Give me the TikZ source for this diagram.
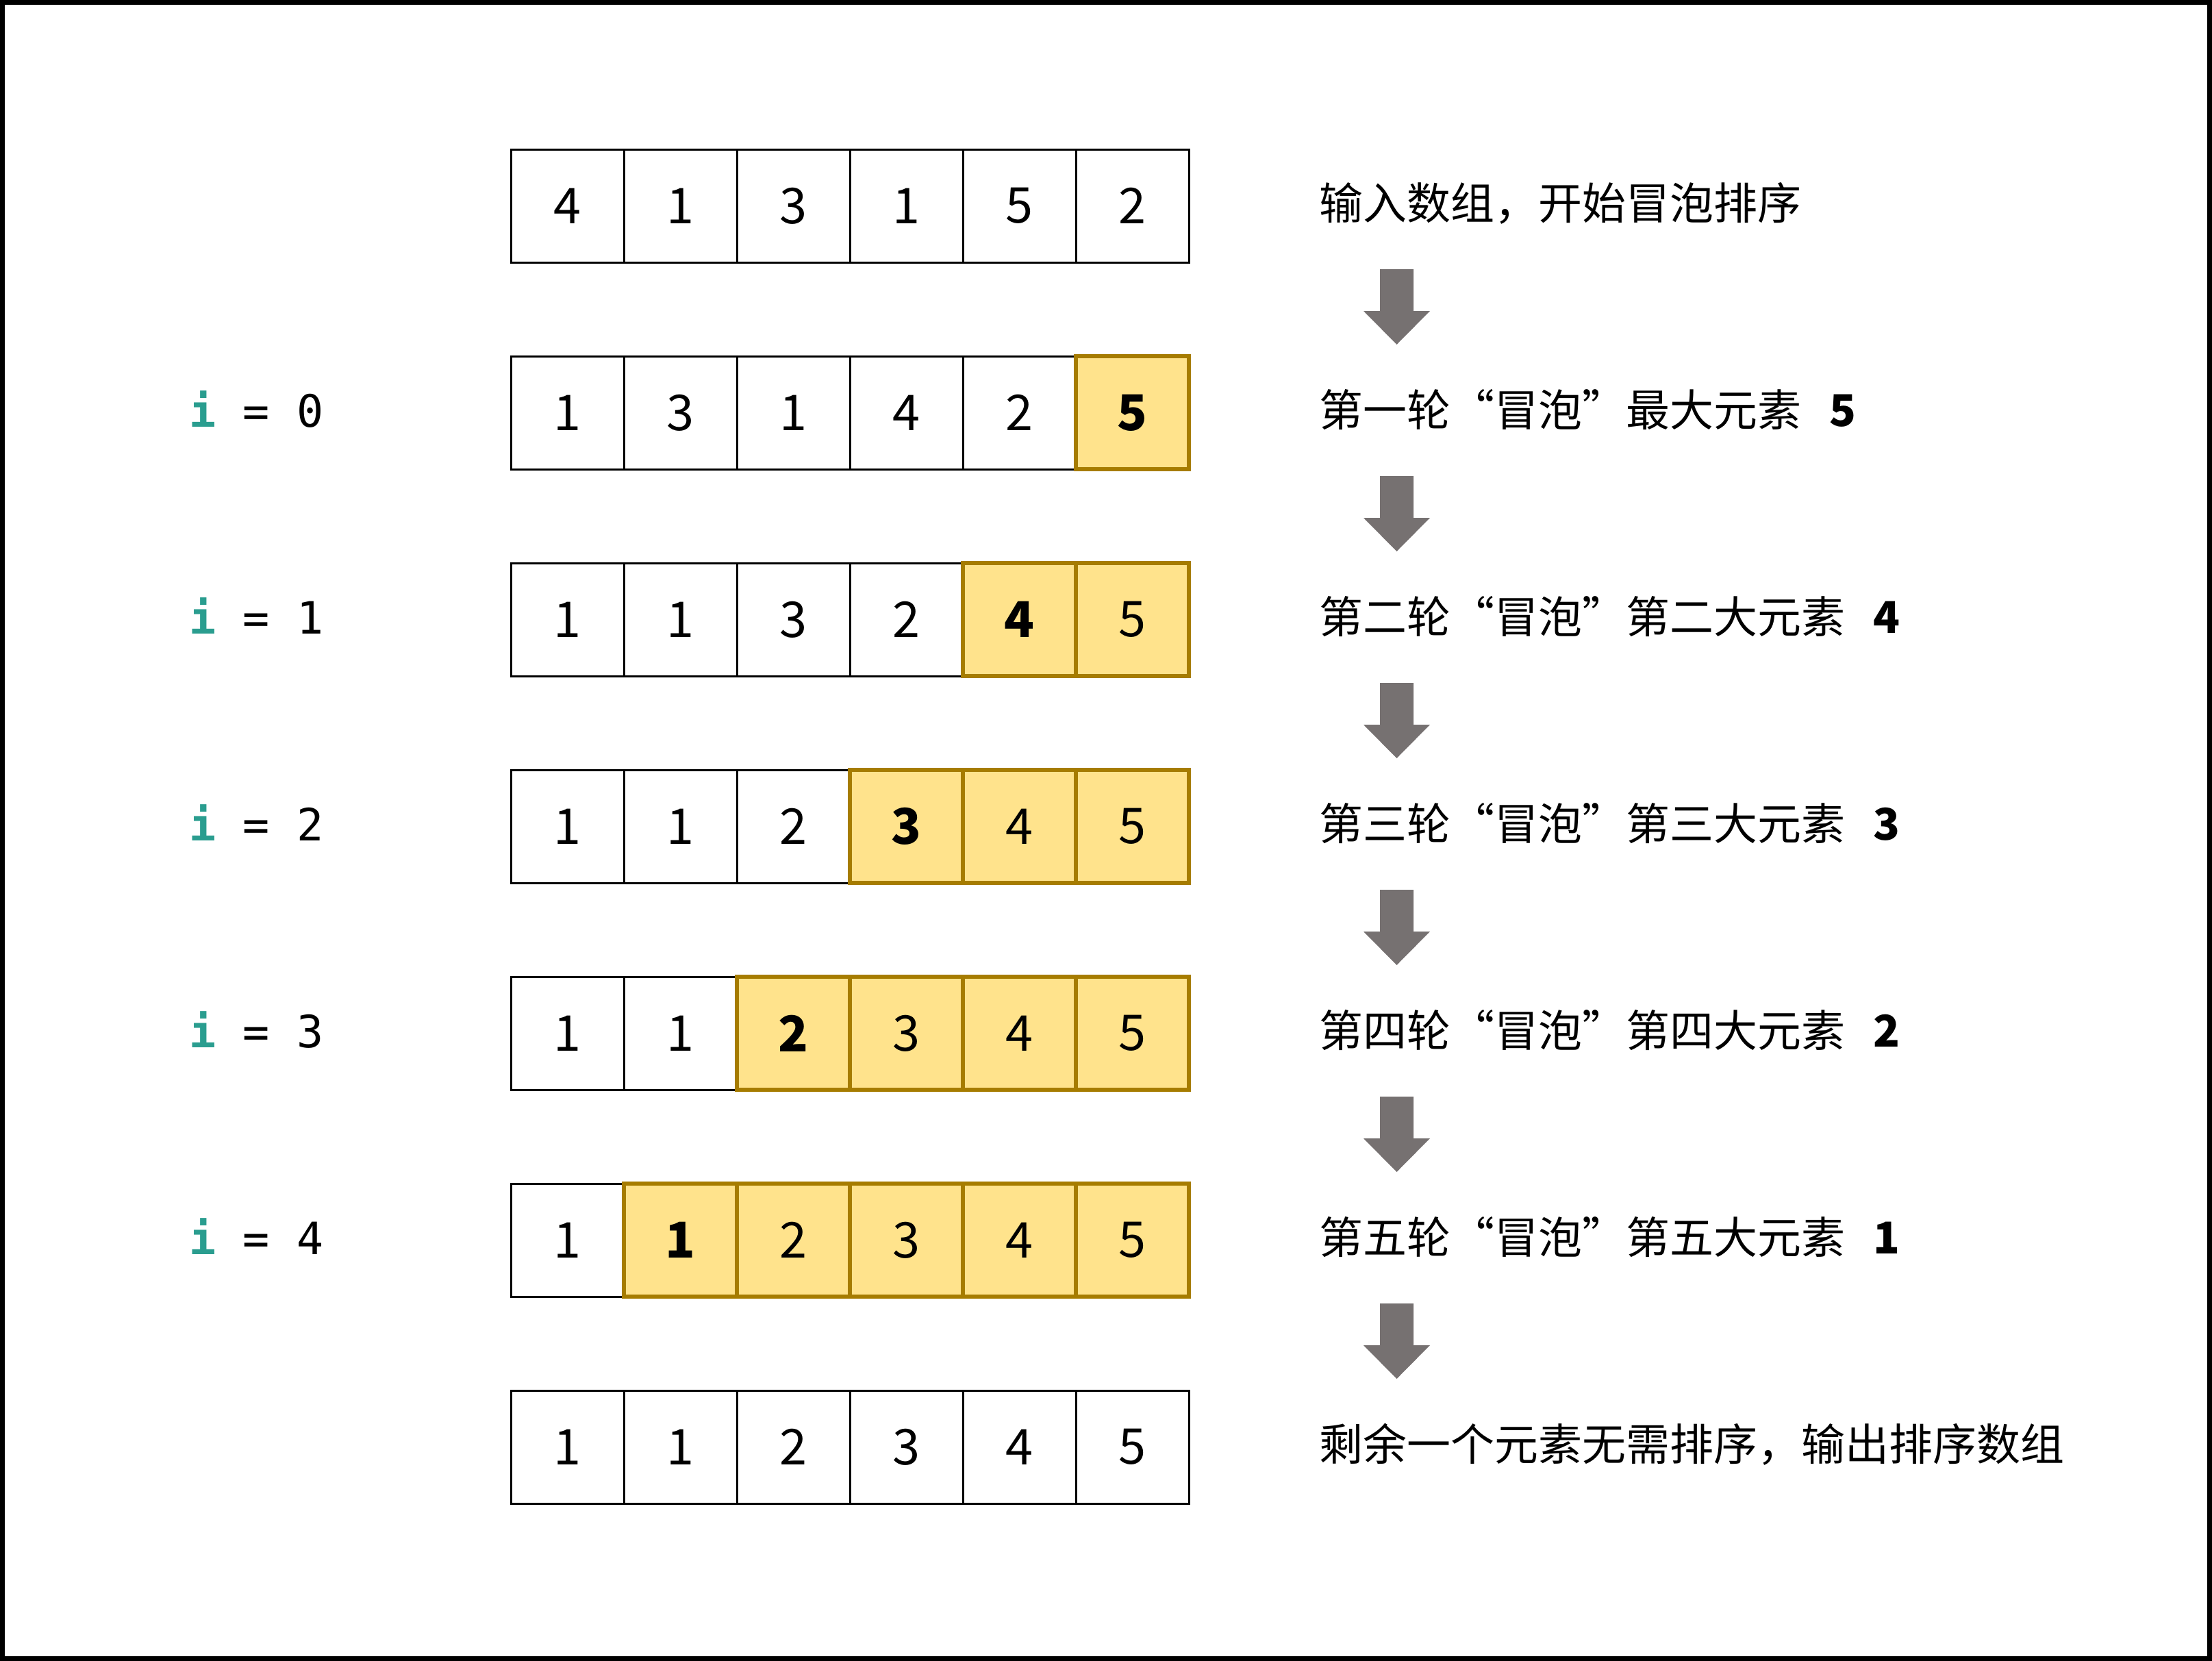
\documentclass[tikz,border=0pt]{standalone}
\usepackage{fontspec}
\setmainfont{Noto Sans CJK SC}
\newfontfamily\idxfont{DejaVu Sans Mono}

\definecolor{hlfill}{RGB}{255,227,140}
\definecolor{hlborder}{RGB}{166,124,0}
\definecolor{arrowgray}{RGB}{118,113,113}
\definecolor{idxteal}{RGB}{42,157,143}

\tikzset{
  cell/.style={draw, line width=0.3mm, minimum size=1.65cm, inner sep=0pt,
    font=\fontsize{20.5}{24}\selectfont},
  hlcell/.style={cell, fill=hlfill, draw=hlborder, line width=0.6mm},
  steplabel/.style={anchor=base west, inner sep=0pt, font=\fontsize{18.2}{22}\selectfont},
  idxlabel/.style={anchor=base west, inner sep=0pt, font=\idxfont\fontsize{18.5}{22}\selectfont},
  downarrow/.style={fill=arrowgray},
}

\begin{document}
\begin{tikzpicture}

\useasboundingbox (0,0) rectangle (32.3,-24.25);
\draw[line width=0.7mm] (0.035,-0.035) rectangle (32.265,-24.215);

% array rows, h = first highlighted cell
\foreach \h/\vals/\txt [count=\r from 0] in {
  6/{4,1,3,1,5,2}/{输入数组，开始冒泡排序},
  5/{1,3,1,4,2,5}/{第一轮“冒泡”最大元素\hspace{0.65em}\textbf{5}},
  4/{1,1,3,2,4,5}/{第二轮“冒泡”第二大元素\hspace{0.65em}\textbf{4}},
  3/{1,1,2,3,4,5}/{第三轮“冒泡”第三大元素\hspace{0.65em}\textbf{3}},
  2/{1,1,2,3,4,5}/{第四轮“冒泡”第四大元素\hspace{0.65em}\textbf{2}},
  1/{1,1,2,3,4,5}/{第五轮“冒泡”第五大元素\hspace{0.65em}\textbf{1}},
  6/{1,1,2,3,4,5}/{剩余一个元素无需排序，输出排序数组}}
{
  \foreach \v [count=\k from 0] in \vals {
    \ifnum\k<\h
      \node[cell] (c-\r-\k) at ({8.285+1.65*\k},{-3.005-3.02*\r}) {\v};
    \else
      \node[hlcell] (c-\r-\k) at ({8.285+1.65*\k},{-3.005-3.02*\r}) {\ifnum\k=\h\bfseries\fi\v};
    \fi
  }
  \node[steplabel] (step-\r) at (19.26,{-3.2-3.02*\r}) {\txt};
}

% loop index
\foreach \r in {1,...,5}
  \node[idxlabel] (idx-\r) at (2.76,{-3.215-3.02*\r})
    {\textcolor{idxteal}{\bfseries i} = \the\numexpr\r-1\relax};

% block arrows between steps
\foreach \r in {0,...,5}
  \fill[downarrow] (20.15,{-3.93-3.02*\r}) -- (20.64,{-3.93-3.02*\r})
    -- (20.64,{-4.54-3.02*\r}) -- (20.88,{-4.54-3.02*\r})
    -- (20.395,{-5.03-3.02*\r}) -- (19.91,{-4.54-3.02*\r})
    -- (20.15,{-4.54-3.02*\r}) -- cycle;

\end{tikzpicture}
\end{document}
